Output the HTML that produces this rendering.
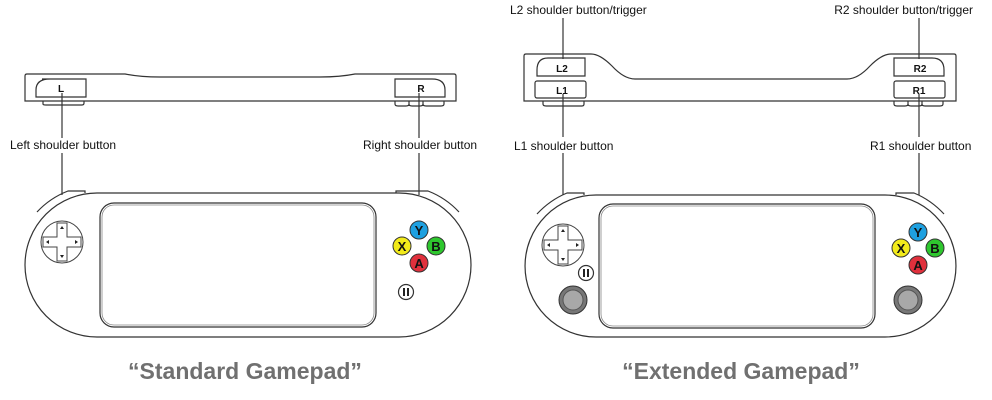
<!DOCTYPE html>
<html><head><meta charset="utf-8"><style>
html,body{margin:0;padding:0;background:#fff;}
svg{display:block;}
.l{fill:none;stroke:#333;stroke-width:1.2;}
.t{font-family:"Liberation Sans",sans-serif;font-size:12px;fill:#111;}
.b{font-family:"Liberation Sans",sans-serif;font-weight:bold;font-size:10px;fill:#111;text-anchor:middle;}
.f{font-family:"Liberation Sans",sans-serif;font-weight:bold;font-size:13px;text-anchor:middle;fill:#111;}
.title{font-family:"Liberation Sans",sans-serif;font-weight:bold;font-size:23px;fill:#707070;text-anchor:middle;}
</style></head><body>
<svg width="992" height="400" viewBox="0 0 992 400" xmlns="http://www.w3.org/2000/svg">
<defs>
<g id="dpad">
  <circle r="21" fill="#fff" stroke="#444" stroke-width="1"/>
  <path d="M-5,-19 H5 V-5 H19 V5 H5 V19 H-5 V5 H-19 V-5 H-5 Z" fill="#fff" stroke="#444" stroke-width="1"/>
  <path d="M0,-16 l-2,3 h4z M0,16 l-2,-3 h4z M-16,0 l3,-2 v4z M16,0 l-3,-2 v4z" fill="#222"/>
</g>
<g id="face">
  <circle cx="0" cy="-16" r="9" fill="#1ea0e0" stroke="#333"/><text class="f" x="0" y="-11">Y</text>
  <circle cx="-17" cy="0" r="9" fill="#f2ea1a" stroke="#333"/><text class="f" x="-17" y="5">X</text>
  <circle cx="17" cy="0" r="9" fill="#2ec72e" stroke="#333"/><text class="f" x="17" y="5">B</text>
  <circle cx="0" cy="17" r="9" fill="#e0303c" stroke="#333"/><text class="f" x="0" y="22">A</text>
</g>
<g id="pause">
  <circle r="7.5" fill="#fff" stroke="#333" stroke-width="1.2"/>
  <rect x="-3" y="-4" width="2" height="8" fill="#222"/><rect x="1" y="-4" width="2" height="8" fill="#222"/>
</g>
<g id="stick">
  <circle r="14" fill="#777" stroke="#333"/>
  <circle r="10" fill="#a8a8a8" stroke="#555"/>
</g>
</defs>

<!-- ===== Standard ===== -->
<path class="l" d="M27,74 H125 Q140,77 160,77 H320 Q340,77 355,74 H454 Q456,74 456,76 V101 H25 V76 Q25,74 27,74 Z"/>
<path class="l" d="M42,79 H86 V97 H36 V90 Q36,79 50,79"/>
<path class="l" d="M395,79 H432 Q445,79 445,90 V97 H395 Z"/>
<path class="l" d="M43,101 V104 Q43,105 46,105 H82 Q84,105 84,103 V101"/>
<path class="l" d="M395,101 v3 q0,2 3,2 h8 q3,0 3,-2 v-3 M409,101 v3 q0,2 3,2 h8 q3,0 3,-2 v-3 M423,101 v3 q0,2 3,2 h15 q3,0 3,-2 v-3"/>
<text class="b" x="61" y="92">L</text>
<text class="b" x="421" y="92">R</text>
<line class="l" x1="62" y1="93" x2="62" y2="138"/>
<line class="l" x1="62" y1="153" x2="62" y2="195"/>
<line class="l" x1="419" y1="93" x2="419" y2="138"/>
<line class="l" x1="419" y1="153" x2="419" y2="195"/>
<text class="t" x="10" y="149">Left shoulder button</text>
<text class="t" x="363" y="149">Right shoulder button</text>
<path class="l" d="M97,193 H399 A72,72 0 0 1 399,337 H97 A72,72 0 0 1 97,193 Z"/>
<path class="l" d="M37,212 Q50,198 68,191 H85 V193"/>
<path class="l" d="M459,212 Q446,198 428,191 H396 V193"/>
<rect class="l" x="100" y="203" width="276" height="124" rx="14"/>
<rect x="102" y="205" width="272" height="120" rx="12" fill="none" stroke="#888" stroke-width="0.8"/>
<use href="#dpad" x="62" y="242"/>
<use href="#face" x="419" y="246"/>
<use href="#pause" x="406" y="292"/>
<text class="title" x="245" y="379">“Standard Gamepad”</text>

<!-- ===== Extended ===== -->
<text class="t" x="510" y="14">L2 shoulder button/trigger</text>
<text class="t" x="973" y="14" text-anchor="end">R2 shoulder button/trigger</text>
<path class="l" d="M526,54 H591 Q600,54 612,66 Q624,79 635,79 H847 Q858,79 870,66 Q882,54 891,54 H954 Q956,54 956,56 V101 H524 V56 Q524,54 526,54 Z"/>
<path class="l" d="M548,58 H585 V76 H537 V70 Q537,58 548,58"/>
<path class="l" d="M894,58 H932 Q944,58 944,70 V76 H894 Z"/>
<rect class="l" x="535" y="81" width="51" height="17" rx="2"/>
<rect class="l" x="894" y="81" width="51" height="17" rx="2"/>
<path class="l" d="M543,101 V104 Q543,106 546,106 H582 Q584,106 584,104 V101"/>
<path class="l" d="M894,101 v3 q0,2 3,2 h8 q3,0 3,-2 v-3 M908,101 v3 q0,2 3,2 h8 q3,0 3,-2 v-3 M922,101 v3 q0,2 3,2 h15 q3,0 3,-2 v-3"/>
<text class="b" x="562" y="72">L2</text>
<text class="b" x="562" y="94">L1</text>
<text class="b" x="920" y="72">R2</text>
<text class="b" x="919" y="94">R1</text>
<line class="l" x1="563" y1="18" x2="563" y2="59"/>
<line class="l" x1="563" y1="94" x2="563" y2="137"/>
<line class="l" x1="563" y1="153" x2="563" y2="195"/>
<line class="l" x1="919" y1="18" x2="919" y2="59"/>
<line class="l" x1="919" y1="94" x2="919" y2="137"/>
<line class="l" x1="919" y1="153" x2="919" y2="195"/>
<text class="t" x="514" y="150">L1 shoulder button</text>
<text class="t" x="870" y="150">R1 shoulder button</text>
<path class="l" d="M596,195 H885 A71,71 0 0 1 885,337 H596 A71,71 0 0 1 596,195 Z"/>
<path class="l" d="M537,214 Q550,200 567,193 H584 V195"/>
<path class="l" d="M944,214 Q931,200 914,193 H896 V195"/>
<rect class="l" x="599" y="204" width="276" height="124" rx="14"/>
<rect x="601" y="206" width="272" height="120" rx="12" fill="none" stroke="#888" stroke-width="0.8"/>
<use href="#dpad" x="563" y="245"/>
<use href="#face" x="918" y="248"/>
<use href="#pause" x="586" y="273"/>
<use href="#stick" x="573" y="300"/>
<use href="#stick" x="908" y="300"/>
<text class="title" x="741" y="379">“Extended Gamepad”</text>
</svg>
</body></html>
